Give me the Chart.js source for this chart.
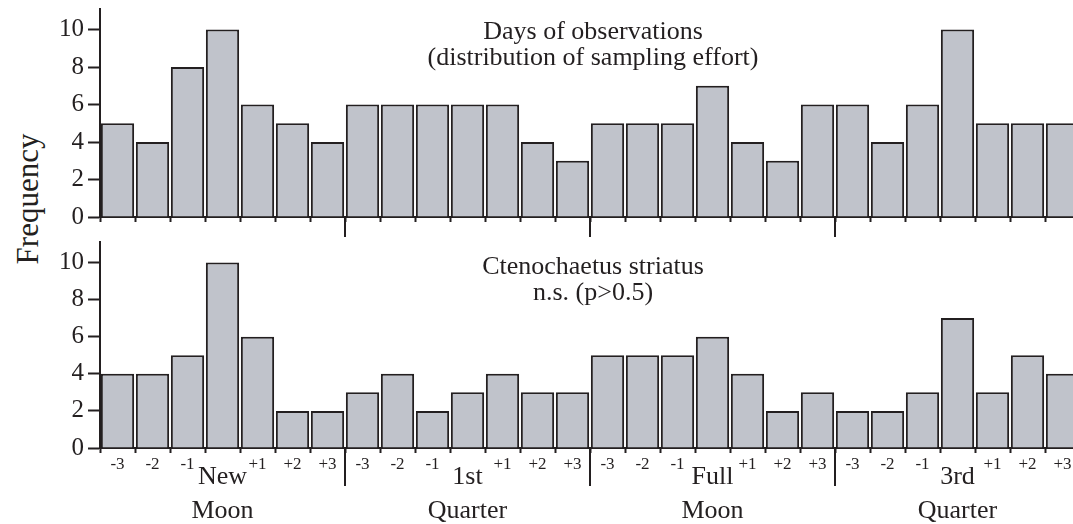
<!DOCTYPE html>
<html lang="en">
<head>
    <meta charset="UTF-8">
    <title>Lunar phase frequency</title>
    <script src="https://cdn.jsdelivr.net/npm/chart.js"></script>
    <style>
        html, body {
            margin: 0;
            padding: 0;
            background: #fff;
            overflow: hidden;
        }
        .figure {
            position: relative;
            width: 1073px;
            height: 524px;
            overflow: hidden;
            font-family: 'Liberation Serif', 'Times New Roman', serif;
            color: #231f20;
        }
        .figure canvas {
            position: absolute;
            left: 0;
        }
        #topChart { top: 0; }
        #bottomChart { top: 232px; }
        .ylabel {
            position: absolute;
            left: 27px;
            top: 199px;
            transform: translate(-50%, -50%) rotate(-90deg);
            font-size: 31px;
            line-height: 1;
            white-space: nowrap;
        }
    </style>
</head>
<body>
    <div class="figure">
        <div class="ylabel">Frequency</div>
        <canvas id="topChart" width="1080" height="240"></canvas>
        <canvas id="bottomChart" width="1080" height="292"></canvas>
    </div>

    <script>
        // Lunar phases and the days around each one
        const phases = ['New', '1st', 'Full', '3rd'];
        const phaseSecondLine = ['Moon', 'Quarter', 'Moon', 'Quarter'];
        const days = ['-3', '-2', '-1', '', '+1', '+2', '+3'];
        const yTicks = [0, 2, 4, 6, 8, 10];

        // Days of observations per lunar day
        const observationDays = [
            5, 4, 8, 10, 6, 5, 4,
            6, 6, 6, 6, 6, 4, 3,
            5, 5, 5, 7, 4, 3, 6,
            6, 4, 6, 10, 5, 5, 5
        ];
        // Ctenochaetus striatus counts per lunar day
        const striatusCounts = [
            4, 4, 5, 10, 6, 2, 2,
            3, 4, 2, 3, 4, 3, 3,
            5, 5, 5, 6, 4, 2, 3,
            2, 2, 3, 7, 3, 5, 4
        ];

        const labels = [];
        phases.forEach(function() { days.forEach(function(d) { labels.push(d); }); });

        const ink = '#231f20';
        const barFill = '#c0c3cb';
        const serif = "'Liberation Serif', 'Times New Roman', serif";

        // Long ticks between phases, panel title and phase names
        const panelDecor = {
            id: 'panelDecor',
            afterDraw(chart, args, opts) {
                const ctx = chart.ctx;
                const x = chart.scales.x;
                const bottom = chart.chartArea.bottom;
                ctx.save();
                ctx.strokeStyle = ink;
                ctx.lineWidth = 2;
                for (let p = 1; p < phases.length; p++) {
                    const i = p * days.length;
                    const px = Math.round((x.getPixelForValue(i - 1) + x.getPixelForValue(i)) / 2);
                    ctx.beginPath();
                    ctx.moveTo(px, bottom);
                    ctx.lineTo(px, bottom + opts.boundaryTick);
                    ctx.stroke();
                }
                ctx.fillStyle = ink;
                ctx.textAlign = 'center';
                ctx.textBaseline = 'alphabetic';
                ctx.font = '26px ' + serif;
                opts.title.forEach(function(line, k) {
                    ctx.fillText(line, opts.titleX, opts.titleY + k * 26);
                });
                if (opts.phaseNames) {
                    phases.forEach(function(name, p) {
                        const cx = x.getPixelForValue(p * days.length + 3);
                        ctx.fillText(name, cx, bottom + 36);
                        ctx.fillText(phaseSecondLine[p], cx, bottom + 70);
                    });
                }
                ctx.restore();
            }
        };

        function makePanel(canvasId, values, opts) {
            return new Chart(document.getElementById(canvasId), {
                type: 'bar',
                data: {
                    labels: labels,
                    datasets: [{
                        data: values,
                        backgroundColor: barFill,
                        borderColor: ink,
                        borderWidth: 2,
                        barPercentage: 0.95,
                        categoryPercentage: 1
                    }]
                },
                options: {
                    responsive: false,
                    animation: false,
                    layout: { padding: { top: opts.padTop, left: 0, right: 0, bottom: 0 } },
                    plugins: {
                        legend: { display: false },
                        tooltip: { enabled: false },
                        panelDecor: {
                            title: opts.title,
                            titleX: 593,
                            titleY: opts.titleY,
                            boundaryTick: opts.boundaryTick,
                            phaseNames: opts.showDays
                        }
                    },
                    scales: {
                        x: {
                            grid: {
                                display: true,
                                drawOnChartArea: false,
                                drawTicks: true,
                                tickLength: 5,
                                tickColor: ink,
                                tickWidth: 2,
                                offset: true
                            },
                            border: { display: true, color: ink, width: 2 },
                            ticks: {
                                display: opts.showDays,
                                autoSkip: false,
                                maxRotation: 0,
                                minRotation: 0,
                                padding: 1,
                                color: ink,
                                font: { family: serif, size: 17 }
                            },
                            afterFit: function(s) {
                                s.height = opts.axisHeight;
                                s.paddingLeft = 0;
                                s.paddingRight = 0;
                            }
                        },
                        y: {
                            min: 0,
                            max: 11.1,
                            afterBuildTicks: function(s) {
                                s.ticks = yTicks.map(function(v) { return { value: v }; });
                            },
                            grid: {
                                drawOnChartArea: false,
                                tickLength: 12,
                                tickColor: ink,
                                tickWidth: 2
                            },
                            border: { display: true, color: ink, width: 2 },
                            ticks: {
                                padding: 4,
                                color: ink,
                                font: { family: serif, size: 25 }
                            },
                            afterFit: function(s) {
                                s.width = 100;
                                s.paddingTop = 0;
                                s.paddingBottom = 0;
                            }
                        }
                    }
                },
                plugins: [panelDecor]
            });
        }

        makePanel('topChart', observationDays, {
            padTop: 9,
            axisHeight: 23,
            showDays: false,
            boundaryTick: 20,
            title: ['Days of observations', '(distribution of sampling effort)'],
            titleY: 39
        });

        makePanel('bottomChart', striatusCounts, {
            padTop: 10,
            axisHeight: 76,
            showDays: true,
            boundaryTick: 38,
            title: ['Ctenochaetus striatus', 'n.s. (p>0.5)'],
            titleY: 42
        });
    </script>
</body>
</html>
